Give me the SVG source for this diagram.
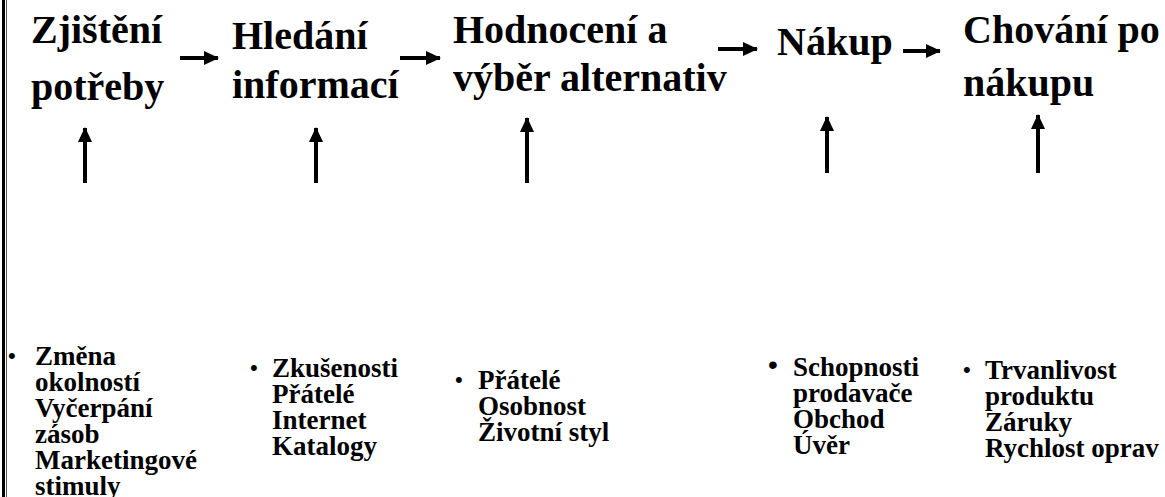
<svg xmlns="http://www.w3.org/2000/svg" width="1165" height="497" viewBox="0 0 1165 497">
<style>
.h{font-family:"Liberation Serif","Times New Roman",serif;font-weight:bold;font-size:40px;fill:#000}
.b{font-family:"Liberation Serif","Times New Roman",serif;font-weight:bold;font-size:27px;fill:#000}
.bul{font-family:"Liberation Sans",Arial,sans-serif;font-size:22px;fill:#000}
.c{stroke:#000;stroke-width:4;fill:none;marker-end:url(#ah)}
</style>
<defs>
<marker id="ah" markerUnits="userSpaceOnUse" markerWidth="15" markerHeight="14" viewBox="0 0 15 14" refX="14" refY="7" orient="auto">
<path d="M0,0 L15,7 L0,14 z" fill="#000"/>
</marker>
</defs>
<rect width="1165" height="497" fill="#fff"/>
<g id="border">
<line x1="3.5" y1="0" x2="3.5" y2="497" stroke="#000" stroke-width="3"/>
<line x1="6.5" y1="0" x2="6.5" y2="497" stroke="#555" stroke-width="1"/>
</g>
<g id="step1">
<text class="h" x="31" y="43">Zjištění</text>
<text class="h" x="31" y="100">potřeby</text>
</g>
<g id="step2">
<text class="h" x="232" y="49">Hledání</text>
<text class="h" x="232" y="98">informací</text>
</g>
<g id="step3">
<text class="h" x="453" y="43">Hodnocení a</text>
<text class="h" x="453" y="91">výběr alternativ</text>
</g>
<g id="step4">
<text class="h" x="777" y="55">Nákup</text>
</g>
<g id="step5">
<text class="h" x="963" y="43">Chování po</text>
<text class="h" x="963" y="96">nákupu</text>
</g>
<g id="factors1">
<text class="bul" x="8" y="363">•</text>
<text class="b" x="35" y="365">Změna</text>
<text class="b" x="35" y="391">okolností</text>
<text class="b" x="35" y="417">Vyčerpání</text>
<text class="b" x="35" y="443">zásob</text>
<text class="b" x="35" y="469">Marketingové</text>
<text class="b" x="35" y="495">stimuly</text>
</g>
<g id="factors2">
<text class="bul" x="250" y="375">•</text>
<text class="b" x="272" y="377">Zkušenosti</text>
<text class="b" x="272" y="403">Přátelé</text>
<text class="b" x="272" y="429">Internet</text>
<text class="b" x="272" y="455">Katalogy</text>
</g>
<g id="factors3">
<text class="bul" x="455" y="387">•</text>
<text class="b" x="478" y="389">Přátelé</text>
<text class="b" x="478" y="415">Osobnost</text>
<text class="b" x="478" y="441">Životní styl</text>
</g>
<g id="factors4">
<text class="bul" x="768" y="374" style="font-size:28px">•</text>
<text class="b" x="793" y="376">Schopnosti</text>
<text class="b" x="793" y="402">prodavače</text>
<text class="b" x="793" y="428">Obchod</text>
<text class="b" x="793" y="454">Úvěr</text>
</g>
<g id="factors5">
<text class="bul" x="963" y="377">•</text>
<text class="b" x="985" y="379">Trvanlivost</text>
<text class="b" x="985" y="405">produktu</text>
<text class="b" x="985" y="431">Záruky</text>
<text class="b" x="985" y="457">Rychlost oprav</text>
</g>
<g id="connectors">
<line class="c" x1="180" y1="58" x2="218" y2="58"/>
<line class="c" x1="400" y1="58" x2="440" y2="58"/>
<line class="c" x1="718" y1="49" x2="757" y2="49"/>
<line class="c" x1="903" y1="51" x2="940" y2="51"/>
<line class="c" x1="85" y1="183" x2="85" y2="128"/>
<line class="c" x1="316" y1="183" x2="316" y2="128"/>
<line class="c" x1="527" y1="183" x2="527" y2="118"/>
<line class="c" x1="827" y1="173" x2="827" y2="117"/>
<line class="c" x1="1038" y1="173" x2="1038" y2="115"/>
</g>
</svg>
